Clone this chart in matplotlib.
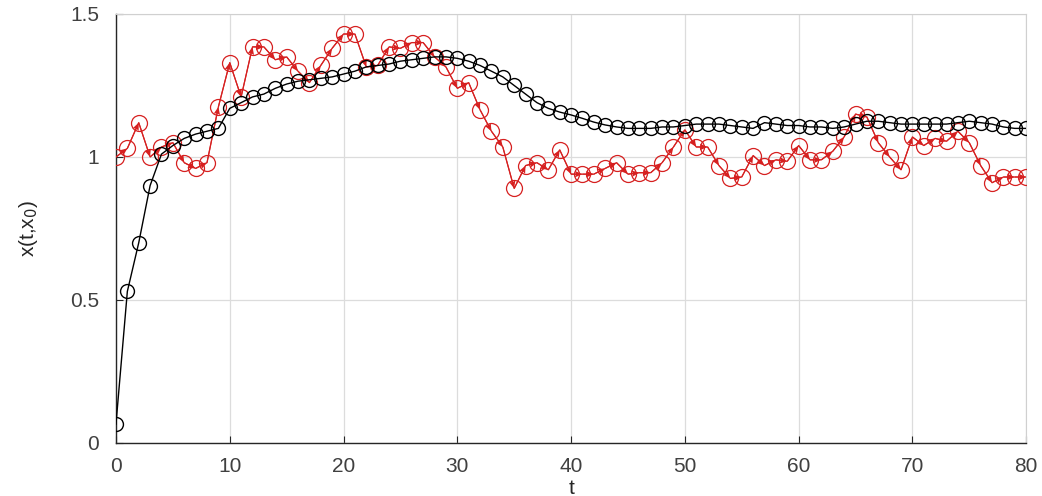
import numpy as np
import matplotlib
matplotlib.use("Agg")
import matplotlib.pyplot as plt

plt.rcParams["font.family"] = ["Liberation Sans", "DejaVu Sans"]

t = np.arange(0, 81)

black_vals = [0.066, 0.53, 0.70, 0.90, 1.01, 1.04, 1.065, 1.08, 1.09, 1.10,
              1.17, 1.19, 1.21, 1.22, 1.24, 1.255, 1.265, 1.27, 1.275, 1.28,
              1.29, 1.30, 1.315, 1.32, 1.325, 1.335, 1.34, 1.345, 1.35, 1.35,
              1.345, 1.335, 1.32, 1.30, 1.28, 1.25, 1.22, 1.19, 1.17, 1.157,
              1.147, 1.135, 1.122, 1.112, 1.105, 1.10, 1.10, 1.10, 1.105, 1.105,
              1.11, 1.115, 1.115, 1.115, 1.11, 1.105, 1.10, 1.12, 1.115, 1.11,
              1.11, 1.105, 1.105, 1.10, 1.105, 1.115, 1.125, 1.125, 1.12, 1.115,
              1.115, 1.115, 1.115, 1.115, 1.12, 1.125, 1.12, 1.115, 1.105, 1.10,
              1.10]

red_vals = [1.00, 1.03, 1.12, 1.00, 1.035, 1.05, 0.98, 0.96, 0.98, 1.175,
            1.33, 1.21, 1.385, 1.385, 1.34, 1.35, 1.30, 1.26, 1.32, 1.38,
            1.43, 1.43, 1.315, 1.32, 1.385, 1.38, 1.40, 1.40, 1.35, 1.315,
            1.24, 1.26, 1.165, 1.09, 1.035, 0.89, 0.97, 0.98, 0.955, 1.025,
            0.94, 0.94, 0.94, 0.96, 0.98, 0.94, 0.945, 0.945, 0.98, 1.035,
            1.095, 1.035, 1.035, 0.97, 0.925, 0.93, 1.005, 0.97, 0.99, 0.985,
            1.04, 0.99, 0.99, 1.02, 1.07, 1.15, 1.14, 1.05, 1.00, 0.955,
            1.07, 1.04, 1.065, 1.055, 1.09, 1.05, 0.97, 0.91, 0.93, 0.93,
            0.93]

x_ticks = [0, 10, 20, 30, 40, 50, 60, 70, 80]
y_ticks = [0, 0.5, 1, 1.5]
y_ticklabels = ["0", "0.5", "1", "1.5"]

fig = plt.figure(figsize=(10.42, 4.96), dpi=100)
ax = fig.add_axes([0.1113, 0.1069, 0.8735, 0.8649])

red = "#d62020"
tr = np.array(t, dtype=float)
rv = np.array(red_vals)
ax.plot(tr, rv, "-", color=red, lw=0.9, zorder=3)
ax.quiver(tr[:-1], rv[:-1], np.diff(tr), np.diff(rv), angles="xy",
          scale_units="xy", scale=1, color=red, width=0.0012,
          headwidth=6, headlength=7, headaxislength=6, zorder=3)
ax.plot(tr, rv, "o", mfc="none", mec=red, ms=11.5, mew=0.9, zorder=4)

ax.plot(t, black_vals, "-", color="black", lw=1.0, zorder=5)
ax.plot(t, black_vals, "o", mfc="none", mec="black", ms=10, mew=1.0, zorder=6)

ax.set_xlim(0, 80)
ax.set_ylim(0, 1.5)
ax.set_xticks(x_ticks)
ax.set_yticks(y_ticks)
ax.set_yticklabels(y_ticklabels)
ax.grid(True, color="#dcdcdc", lw=0.9)
ax.set_axisbelow(True)
ax.tick_params(direction="in", labelsize=15, length=5, colors="#262626",
               labelcolor="#404040")
ax.tick_params(axis="x", pad=10)
ax.tick_params(axis="y", pad=12)
for s in ["left", "bottom"]:
    ax.spines[s].set_color("#262626")
    ax.spines[s].set_linewidth(1.0)
for s in ["top", "right"]:
    ax.spines[s].set_color("#d0d0d0")
    ax.spines[s].set_linewidth(0.8)

ax.set_xlabel("t", fontsize=15, labelpad=2, color="#262626")
ax.set_ylabel(r"x(t,x$_0$)", fontsize=15, labelpad=22, color="#262626")

fig.savefig("out.png", dpi=100)
